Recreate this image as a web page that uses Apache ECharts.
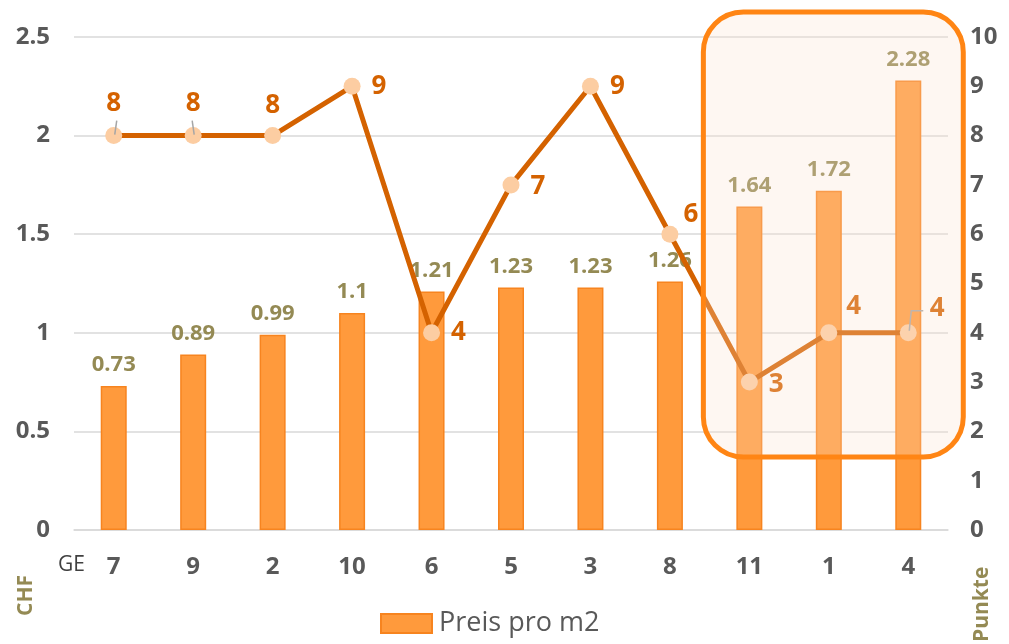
<!DOCTYPE html>
<html><head><meta charset="utf-8">
<script src="https://cdn.jsdelivr.net/npm/echarts@6/dist/echarts.min.js"></script>
<style>html,body{margin:0;padding:0;background:#fff}#c{width:1009px;height:644px}</style>
</head><body><div id="c"></div>
<script>
const categories = ['7','9','2','10','6','5','3','8','11','1','4'];
const preis = [0.73,0.89,0.99,1.1,1.21,1.23,1.23,1.26,1.64,1.72,2.28];
const punkte = [8,8,8,9,4,7,9,6,3,4,4];
const leftTicks = [0,0.5,1,1.5,2,2.5];
const rightTicks = [0,1,2,3,4,5,6,7,8,9,10];

const FONT = '"Open Sans", Lato, sans-serif';
const lineLabelPos = [
  {position:'top', offset:[0,-6]},
  {position:'top', offset:[0,-6]},
  {position:'top', offset:[0,-4]},
  {position:'right', offset:[6,0]},
  {position:'right', offset:[6,0]},
  {position:'right', offset:[6,2]},
  {position:'right', offset:[6,0]},
  {position:'right', offset:[0,-20]},
  {position:'right', offset:[6,2]},
  {position:'right', offset:[4,-26]},
  {position:'right', offset:[8,-24]}
];
const chart = echarts.init(document.getElementById('c'), null, {renderer:'canvas'});
const option = {
  animation:false,
  textStyle:{fontFamily:FONT},
  grid:{left:74, right:61, top:37, bottom:114},
  legend:{
    data:['Preis pro m2'], bottom:2, left:375,
    icon:'rect', itemWidth:51, itemHeight:19, itemGap:6,
    textStyle:{fontSize:27, color:'#595959', fontFamily:FONT, padding:[0,0,0,2]}
  },
  xAxis:{
    type:'category', data:categories,
    axisLine:{lineStyle:{color:'#D9D9D9', width:1.5}},
    axisTick:{show:false},
    axisLabel:{fontSize:24, fontWeight:'bold', color:'#595959', margin:25, fontFamily:FONT}
  },
  yAxis:[
    {type:'value', min:0, max:2.5, interval:0.5,
     axisLine:{show:false}, axisTick:{show:false},
     splitLine:{lineStyle:{color:'#D9D9D9', width:1.5}},
     axisLabel:{fontSize:24, fontWeight:'bold', color:'#595959', margin:24, fontFamily:FONT}},
    {type:'value', min:0, max:10, interval:1,
     axisLine:{show:false}, axisTick:{show:false}, splitLine:{show:false},
     axisLabel:{fontSize:24, fontWeight:'bold', color:'#595959', margin:22, fontFamily:FONT}}
  ],
  series:[
    {name:'Preis pro m2', type:'bar', data:preis, barWidth:26, yAxisIndex:0,
     itemStyle:{color:'#FF9A3C', borderColor:'#F7841F', borderWidth:1.5},
     label:{show:true, position:'top', distance:10, fontSize:22, fontWeight:'bold', color:'#948A54', fontFamily:FONT}},
    {name:'Punkte', type:'line', yAxisIndex:1, z:5,
     data:punkte.map((v,i)=>({value:v, label:lineLabelPos[i]})),
     lineStyle:{color:'#D46200', width:5},
     symbol:'circle', symbolSize:17,
     itemStyle:{color:'#FCCDA2', borderWidth:0},
     label:{show:true, fontSize:26, fontWeight:'bold', color:'#D46200', fontFamily:FONT}}
  ]
};
chart.setOption(option);

const px = i => chart.convertToPixel({xAxisIndex:0}, i);
const py = v => chart.convertToPixel({yAxisIndex:1}, v);
const x8 = px(8), x10 = px(10);
const yTop = py(10);
const yBot = py(1.48);
const yBase = py(0);
const gridRight = x10 + (x10 - x8)/4;
const guide = (pts) => ({type:'polyline', z:6, silent:true,
  shape:{points:pts}, style:{stroke:'#A6A6A6', lineWidth:1.5, fill:null}});

chart.setOption({
  graphic:[
    guide([[px(0)+1, py(punkte[0])-1],[px(0)+3, py(punkte[0])-15]]),
    guide([[px(1)+1, py(punkte[1])-1],[px(1)-1, py(punkte[1])-15]]),
    guide([[px(10)+1, py(punkte[10])-2],[px(10)+3, py(punkte[10])-22],[px(10)+15, py(punkte[10])-22]]),
    {type:'rect', z:100, silent:true,
     shape:{x:x8-46, y:yTop-25, width:(x10-x8)+101, height:(yBot-yTop)+25, r:40},
     style:{fill:'rgba(250,226,206,0.26)', stroke:'#FF8514', lineWidth:5}},
    {type:'text', left:58, top:yBase+25, z:10,
     style:{text:'GE', fontSize:21, fill:'#404040', fontFamily:FONT}},
    {type:'text', z:10, x:16, y:yBase+86, rotation:Math.PI/2,
     style:{text:'CHF', fontSize:21, fontWeight:'bold', fill:'#948A54', fontFamily:FONT, align:'left', verticalAlign:'top'}},
    {type:'text', z:10, x:gridRight+24, y:yBase+112, rotation:Math.PI/2,
     style:{text:'Punkte', fontSize:21, fontWeight:'bold', fill:'#948A54', fontFamily:FONT, align:'left', verticalAlign:'top'}}
  ]
});
</script></body></html>
